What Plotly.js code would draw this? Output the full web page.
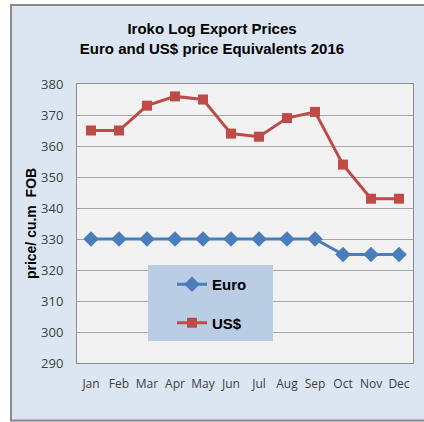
<!DOCTYPE html>
<html>
<head>
<meta charset="utf-8">
<script src="https://cdn.plot.ly/plotly-3.0.1.min.js"></script>
<style>html,body{margin:0;padding:0;background:#fff}#chart{width:424px;height:422px}</style>
</head>
<body>
<div id="chart"></div>
<script>
var months = ['Jan','Feb','Mar','Apr','May','Jun','Jul','Aug','Sep','Oct','Nov','Dec'];
var euroPrices = [330,330,330,330,330,330,330,330,330,325,325,325];
var usdPrices = [365,365,373,376,375,364,363,369,371,354,343,343];
var yTicks = [290,300,310,320,330,340,350,360,370,380];

// pixel -> paper helpers (plot area 77..413 x, 84..363 y)
var L=77, R=413, T=84, B=363;
function px(x){return (x-L)/(R-L);}
function py(y){return (B-y)/(B-T);}

var traces = [
  {x: months, y: euroPrices, name: 'Euro', type: 'scatter', mode: 'lines+markers',
   legendgroup: 'a',
   line: {color: '#4a7ebb', width: 3},
   marker: {symbol: 'diamond', size: 12, color: '#4a7ebb'}},
  {x: months, y: usdPrices, name: 'US$', type: 'scatter', mode: 'lines+markers',
   legendgroup: 'b',
   line: {color: '#be4b48', width: 3},
   marker: {symbol: 'square', size: 10, color: '#be4b48'}}
];

var layout = {
  width: 424, height: 422,
  margin: {l: L, r: 424-R, t: T, b: 422-B},
  paper_bgcolor: '#dce6f2',
  plot_bgcolor: '#f2f2f2',
  title: {text: 'Iroko Log Export Prices<br>Euro and US$ price Equivalents 2016',
          font: {family: 'Liberation Sans, Arial, sans-serif', size: 15, color: '#000', weight: 'bold'},
          x: 0.5, xanchor: 'center', xref: 'container',
          y: 1 - 34/422, yanchor: 'top', yref: 'container'},
  showlegend: true,
  legend: {x: px(172), y: py(268), xanchor: 'left', yanchor: 'top',
           bgcolor: 'rgba(0,0,0,0)', borderwidth: 0,
           font: {family: 'Liberation Sans, Arial, sans-serif', size: 15, color: '#000', weight: 'bold'},
           tracegroupgap: 16, traceorder: 'grouped'},
  xaxis: {type: 'category', showgrid: false, zeroline: false,
          showline: true, linecolor: '#8c8c8c', linewidth: 1, mirror: true,
          ticks: '', ticklabelstandoff: 10,
          tickfont: {family: 'Open Sans, Liberation Sans, sans-serif', size: 12, color: '#404040'},
          range: [-0.5, 11.5], fixedrange: true},
  yaxis: {range: [290, 380], tickvals: yTicks, ticktext: yTicks.map(String),
          showgrid: true, gridcolor: '#a6a6a6', gridwidth: 1, zeroline: false,
          showline: true, linecolor: '#8c8c8c', linewidth: 1, mirror: true,
          ticks: '', ticklabelstandoff: 10,
          tickfont: {family: 'Open Sans, Liberation Sans, sans-serif', size: 13, color: '#404040'},
          title: {text: 'price/ cu.m&nbsp; FOB', standoff: 1,
                  font: {family: 'Liberation Sans, Arial, sans-serif', size: 14, color: '#000', weight: 'bold'}}},
  shapes: [
    {type: 'rect', xref: 'paper', yref: 'paper', x0: px(0), x1: px(10), y0: py(0), y1: py(422),
     fillcolor: '#fff', line: {width: 0}, layer: 'below'},
    {type: 'rect', xref: 'paper', yref: 'paper', x0: px(0), x1: px(424), y0: py(0), y1: py(4),
     fillcolor: '#fff', line: {width: 0}, layer: 'below'},
    {type: 'line', xref: 'paper', yref: 'paper', x0: px(11), x1: px(11), y0: py(4), y1: py(421),
     line: {color: '#8a8a8a', width: 2}, layer: 'below'},
    {type: 'line', xref: 'paper', yref: 'paper', x0: px(10), x1: px(424), y0: py(5), y1: py(5),
     line: {color: '#8a8a8a', width: 2}, layer: 'below'},
    {type: 'line', xref: 'paper', yref: 'paper', x0: px(10), x1: px(424), y0: py(420.5), y1: py(420.5),
     line: {color: '#8a8a8a', width: 2}, layer: 'below'},
    {type: 'rect', xref: 'paper', yref: 'paper', x0: px(148), x1: px(273), y0: py(341), y1: py(265),
     fillcolor: '#b9cde5', line: {width: 0}, layer: 'above'}
  ]
};

Plotly.newPlot('chart', traces, layout, {displayModeBar: false, staticPlot: true});
</script>
</body>
</html>
